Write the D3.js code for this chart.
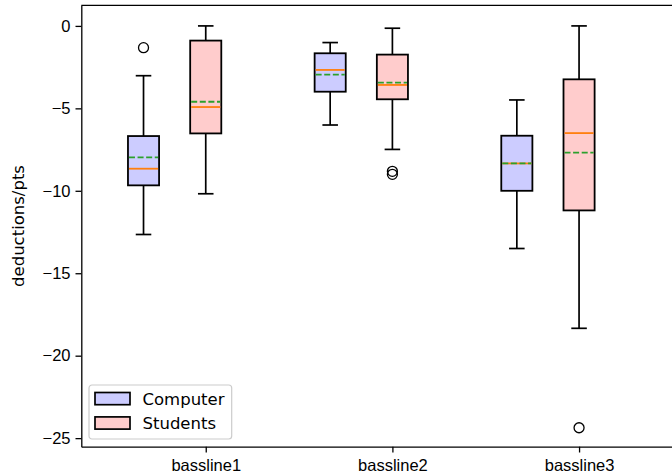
<!DOCTYPE html>
<html>
<head>
<meta charset="utf-8">
<script src="https://cdn.jsdelivr.net/npm/d3@7"></script>
<style>
  html, body { margin: 0; padding: 0; background: #fff; }
  svg { display: block; font-family: "DejaVu Sans", sans-serif; }
</style>
</head>
<body>
<div id="chart"></div>
<script>
// categories and where the boxes sit on the x axis (data units)
const categories = ["bassline1", "bassline2", "bassline3"];
const tickPositions = [2, 5, 8];
const computerPositions = [1, 4, 7];
const studentPositions = [2, 5, 8];

// [whisker low, Q1, median, mean, Q3, whisker high]
const computerStats = [
    [-12.65, -9.67, -8.66, -7.97, -6.68, -3.02],
    [-6.01, -3.99, -2.67, -2.96, -1.66, -1.01],
    [-13.5, -10.0, -8.34, -8.34, -6.66, -4.49]
];
const studentStats = [
    [-10.18, -6.52, -4.92, -4.6, -0.89, 0.0],
    [-7.49, -4.45, -3.58, -3.44, -1.74, -0.14],
    [-18.34, -11.19, -6.5, -7.69, -3.24, 0.0]
];
const computerFliers = [[-1.32], [], []];
const studentFliers = [[], [-8.82, -9.0], [-24.37]];

const yTicks = [0, -5, -10, -15, -20, -25];
const seriesNames = ["Computer", "Students"];

// chart size
const width = 672, height = 475;
const margin = {left: 81.3, top: 5.3, bottom: 446.7};

const svg = d3.select("#chart")
    .append("svg")
    .attr("width", width)
    .attr("height", height);

// x scale runs past the right edge of the picture, like the cropped original
const xScale = d3.scaleLinear()
    .domain([0, 10])
    .range([margin.left, margin.left + 622.2]);

const yScale = d3.scaleLinear()
    .domain([-25.52, 1.25])
    .range([margin.bottom, margin.top]);

const fontSize = 16.5;
const minus = d => d3.format("d")(d).replace("-", "\u2212");

// y axis
const yAxis = svg.append("g")
    .attr("transform", `translate(${margin.left},0)`)
    .call(d3.axisLeft(yScale)
        .tickValues(yTicks)
        .tickFormat(minus)
        .tickSize(5.8)
        .tickSizeOuter(0)
        .tickPadding(5));
yAxis.selectAll("text").style("font-size", fontSize + "px").attr("fill", "#000");

// x axis
const xAxis = svg.append("g")
    .attr("transform", `translate(0,${margin.bottom})`)
    .call(d3.axisBottom(xScale)
        .tickValues(tickPositions)
        .tickFormat((d, i) => categories[i])
        .tickSize(5.8)
        .tickSizeOuter(0)
        .tickPadding(6.4));
xAxis.selectAll("text").style("font-size", fontSize + "px").attr("fill", "#000");

svg.selectAll(".domain").attr("stroke", "#000").attr("stroke-width", 1.3);
svg.selectAll(".tick line").attr("stroke", "#000").attr("stroke-width", 1.3);

// top spine
svg.append("line")
    .attr("x1", margin.left).attr("x2", width)
    .attr("y1", margin.top).attr("y2", margin.top)
    .attr("stroke", "#000").attr("stroke-width", 1.3);

// y axis label
svg.append("text")
    .attr("transform", `translate(24,${(margin.top + margin.bottom) / 2}) rotate(-90)`)
    .attr("text-anchor", "middle")
    .style("font-size", fontSize + "px")
    .text("deductions/pts");

// draws one group of boxes
function drawBoxes(stats, positions, fliers, fill) {
    const g = svg.append("g");
    const boxW = 0.5, capW = 0.25;
    stats.forEach(function(s, i) {
        const p = positions[i];
        const [lo, q1, med, mean, q3, hi] = s;
        const cx = xScale(p);

        // whiskers
        g.append("line").attr("x1", cx).attr("x2", cx)
            .attr("y1", yScale(q1)).attr("y2", yScale(lo))
            .attr("stroke", "#000").attr("stroke-width", 1.7);
        g.append("line").attr("x1", cx).attr("x2", cx)
            .attr("y1", yScale(q3)).attr("y2", yScale(hi))
            .attr("stroke", "#000").attr("stroke-width", 1.7);

        // caps
        [lo, hi].forEach(function(v) {
            g.append("line")
                .attr("x1", xScale(p - capW / 2)).attr("x2", xScale(p + capW / 2))
                .attr("y1", yScale(v)).attr("y2", yScale(v))
                .attr("stroke", "#000").attr("stroke-width", 1.7);
        });

        // box
        g.append("rect")
            .attr("x", xScale(p - boxW / 2))
            .attr("y", yScale(q3))
            .attr("width", xScale(p + boxW / 2) - xScale(p - boxW / 2))
            .attr("height", yScale(q1) - yScale(q3))
            .attr("fill", fill)
            .attr("stroke", "#000")
            .attr("stroke-width", 1.8);

        // median
        g.append("line")
            .attr("x1", xScale(p - boxW / 2) + 1).attr("x2", xScale(p + boxW / 2) - 1)
            .attr("y1", yScale(med)).attr("y2", yScale(med))
            .attr("stroke", "#ff7f0e").attr("stroke-width", 1.8);

        // mean
        g.append("line")
            .attr("x1", xScale(p - boxW / 2) + 1).attr("x2", xScale(p + boxW / 2) - 1)
            .attr("y1", yScale(mean)).attr("y2", yScale(mean))
            .attr("stroke", "#2ca02c").attr("stroke-width", 1.8)
            .attr("stroke-dasharray", "6,2.6");

        // outliers
        g.selectAll(null)
            .data(fliers[i])
            .enter()
            .append("circle")
                .attr("cx", cx)
                .attr("cy", d => yScale(d))
                .attr("r", 5)
                .attr("fill", "none")
                .attr("stroke", "#000")
                .attr("stroke-width", 1.3);
    });
}

drawBoxes(computerStats, computerPositions, computerFliers, "#ccccff");
drawBoxes(studentStats, studentPositions, studentFliers, "#ffcccc");

// legend
const legendColors = ["#ccccff", "#ffcccc"];
const legend = svg.append("g").attr("transform", "translate(89,385)");
legend.append("rect")
    .attr("width", 142.7).attr("height", 54)
    .attr("rx", 3).attr("ry", 3)
    .attr("fill", "#fff").attr("fill-opacity", 0.8)
    .attr("stroke", "#cccccc").attr("stroke-width", 1.2);

seriesNames.forEach(function(name, i) {
    legend.append("rect")
        .attr("x", 6).attr("y", 7.5 + i * 24.4)
        .attr("width", 35).attr("height", 12.2)
        .attr("fill", legendColors[i])
        .attr("stroke", "#000").attr("stroke-width", 1.7);
    legend.append("text")
        .attr("x", 53.5).attr("y", 19.8 + i * 24.4)
        .style("font-size", fontSize + "px")
        .text(name);
});
</script>
</body>
</html>
